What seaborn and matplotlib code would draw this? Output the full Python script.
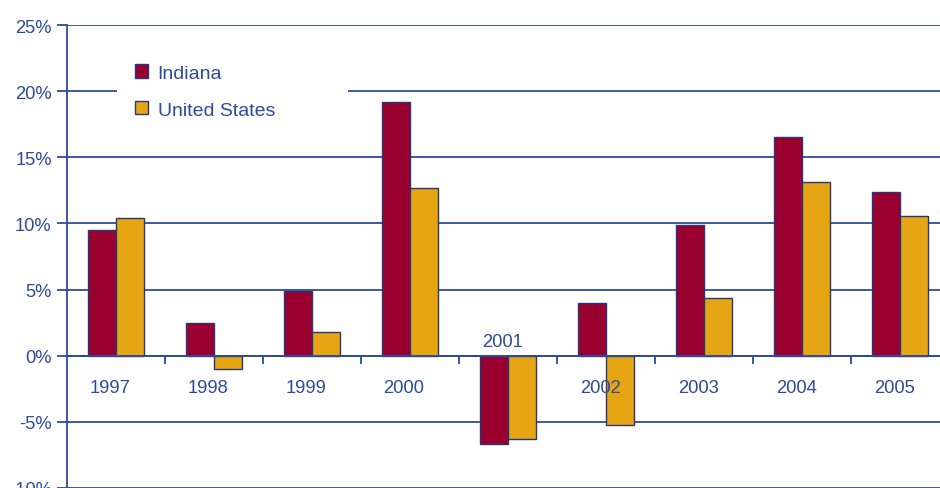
import matplotlib
matplotlib.use("Agg")
import matplotlib.pyplot as plt
import matplotlib.transforms as mtrans
from matplotlib.patches import Patch, Rectangle
import seaborn as sns
import pandas as pd

years = ["1997", "1998", "1999", "2000", "2001", "2002", "2003", "2004", "2005"]
indiana = [9.5, 2.5, 4.9, 19.2, -6.7, 3.95, 9.9, 16.5, 12.4]
united_states = [10.4, -1.0, 1.8, 12.7, -6.3, -5.2, 4.4, 13.1, 10.55]
yticks = [-10, -5, 0, 5, 10, 15, 20, 25]

blue = "#2d4b9c"
edge = "#2a3578"
colors = ["#990030", "#e6a614"]

sns.set_style("white")
plt.rcParams['font.family'] = ['Liberation Sans', 'DejaVu Sans']

df = pd.DataFrame({
    "year": years * 2,
    "value": indiana + united_states,
    "region": ["Indiana"] * len(years) + ["United States"] * len(years),
})

fig = plt.figure(figsize=(9.4, 4.89), dpi=100)
ax = fig.add_axes([0.0713, 0.0, 0.9383, 0.9468])

sns.barplot(data=df, x="year", y="value", hue="region", palette=colors,
            saturation=1, width=0.58, edgecolor=edge, linewidth=1,
            legend=False, ax=ax)

ax.set_xlim(-0.5, len(years) - 0.5)
ax.set_ylim(-10, 25)
ax.set_yticks(yticks)
ax.set_yticklabels([f"{t}%" for t in yticks])
ax.set_xlabel("")
ax.set_ylabel("")

# gridlines under the bars, axis (and year labels) above them
ax.set_axisbelow(False)
ax.grid(False)
for t in yticks:
    ax.axhline(t, color=blue, linewidth=1.3, zorder=0.5)

for s in ["top", "right"]:
    ax.spines[s].set_visible(False)
ax.spines["left"].set_color(blue)
ax.spines["left"].set_linewidth(1.3)
ax.spines["bottom"].set_position(("data", 0))
ax.spines["bottom"].set_color(blue)
ax.spines["bottom"].set_linewidth(1.3)

ax.tick_params(axis="y", colors=blue, labelcolor=blue, labelsize=13.2,
               length=7, width=1.3, pad=4, direction="out", left=True)
ax.set_xticks(range(len(years)))
ax.set_xticklabels(years)
ax.set_xticks([i + 0.5 for i in range(len(years) - 1)], minor=True)
ax.tick_params(axis="x", which="major", length=0, pad=17, labelsize=13.2,
               labelcolor=blue)
ax.tick_params(axis="x", which="minor", length=6, width=1.3, color=blue,
               direction="out", bottom=True)

# year labels sit a little left of the group centre; 2001 goes above zero
for lab in ax.get_xticklabels():
    dy = 33 / 72 if lab.get_text() == "2001" else 0
    lab.set_transform(lab.get_transform() +
                      mtrans.ScaledTranslation(-4.3 / 72, dy, fig.dpi_scale_trans))

# white box behind the legend breaks the 20% gridline
ax.add_patch(Rectangle((0.0567, 0.775), 0.262, 0.173, transform=ax.transAxes,
                       facecolor="white", edgecolor="none", zorder=0.8))

handles = [Patch(facecolor=colors[0], edgecolor=edge, label="Indiana"),
           Patch(facecolor=colors[1], edgecolor=edge, label="United States")]
leg = ax.legend(handles=handles, loc="upper left", bbox_to_anchor=(0.077, 0.915),
                frameon=False, fontsize=14, handlelength=0.67,
                handleheight=0.67, handletextpad=0.5, labelspacing=1.0,
                borderpad=0, borderaxespad=0)
for t in leg.get_texts():
    t.set_color(blue)

fig.savefig("out.png", dpi=100)
